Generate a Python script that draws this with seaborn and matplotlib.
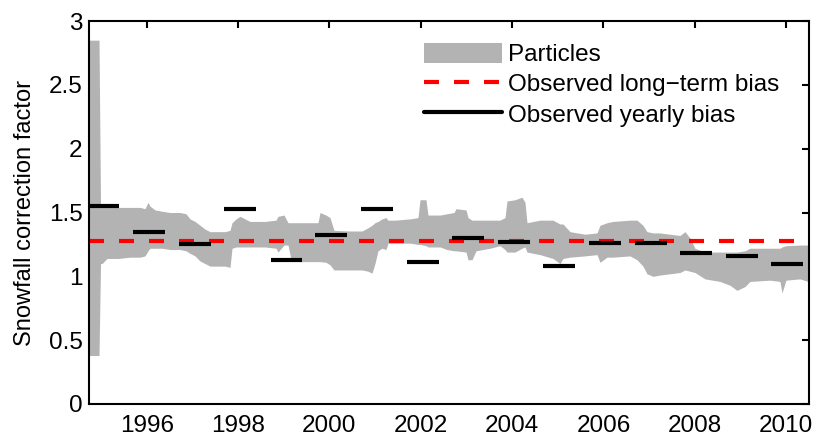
import numpy as np
import pandas as pd
import seaborn as sns
import matplotlib
matplotlib.use("Agg")
import matplotlib.pyplot as plt
from matplotlib.patches import Patch
from matplotlib.lines import Line2D
from matplotlib.ticker import FuncFormatter

# ---- data -----------------------------------------------------------------
band_years = [1994.748, 1994.958, 1994.991, 1995.024, 1995.133, 1995.374, 1995.637,
              1995.856, 1995.965, 1996.031, 1996.074, 1996.184, 1996.337, 1996.512,
              1996.731, 1996.862, 1996.950, 1997.059, 1997.169, 1997.278, 1997.388,
              1997.716, 1997.825, 1997.869, 1997.957, 1998.044, 1998.263, 1998.591,
              1998.832, 1998.876, 1999.007, 1999.095, 1999.160, 1999.357, 1999.751,
              1999.795, 1999.926, 2000.014, 2000.101, 2000.451, 2000.714, 2000.845,
              2000.933, 2000.998, 2001.064, 2001.152, 2001.239, 2001.283, 2001.436,
              2001.765, 2001.940, 2001.984, 2002.115, 2002.159, 2002.421, 2002.575,
              2002.728, 2002.772, 2002.991, 2003.035, 2003.122, 2003.210, 2003.516,
              2003.735, 2003.844, 2003.888, 2004.063, 2004.216, 2004.282, 2004.326,
              2004.610, 2004.895, 2005.048, 2005.114, 2005.267, 2005.595, 2005.858,
              2005.924, 2006.077, 2006.208, 2006.580, 2006.733, 2006.864, 2006.952,
              2007.083, 2007.236, 2007.455, 2007.674, 2007.784, 2007.893, 2008.002,
              2008.221, 2008.550, 2008.769, 2008.922, 2009.097, 2009.206, 2009.644,
              2009.863, 2009.907, 2009.994, 2010.301, 2010.476]
band_upper = [2.85, 2.85, 1.55, 1.55, 1.54, 1.54, 1.54,
              1.54, 1.53, 1.58, 1.55, 1.52, 1.51, 1.50,
              1.50, 1.49, 1.45, 1.43, 1.40, 1.37, 1.35,
              1.35, 1.36, 1.42, 1.45, 1.47, 1.43, 1.43,
              1.44, 1.47, 1.48, 1.42, 1.42, 1.42, 1.42,
              1.50, 1.48, 1.46, 1.36, 1.355, 1.355, 1.38,
              1.40, 1.42, 1.43, 1.45, 1.46, 1.44, 1.44,
              1.45, 1.46, 1.60, 1.60, 1.48, 1.48, 1.49,
              1.50, 1.53, 1.52, 1.46, 1.44, 1.44, 1.44,
              1.44, 1.46, 1.59, 1.60, 1.62, 1.58, 1.42,
              1.44, 1.44, 1.41, 1.41, 1.35, 1.33, 1.34,
              1.40, 1.42, 1.43, 1.44, 1.44, 1.40, 1.35,
              1.34, 1.34, 1.33, 1.32, 1.35, 1.30, 1.22,
              1.19, 1.19, 1.19, 1.19, 1.20, 1.22, 1.22,
              1.22, 1.23, 1.24, 1.245, 1.245]
band_lower = [0.38, 0.38, 1.10, 1.10, 1.14, 1.14, 1.15,
              1.15, 1.16, 1.20, 1.22, 1.22, 1.22, 1.21,
              1.21, 1.20, 1.18, 1.16, 1.12, 1.10, 1.08,
              1.08, 1.07, 1.22, 1.23, 1.23, 1.23, 1.23,
              1.22, 1.19, 1.245, 1.245, 1.13, 1.115, 1.115,
              1.115, 1.11, 1.09, 1.05, 1.05, 1.05, 1.04,
              1.025, 1.10, 1.20, 1.22, 1.21, 1.26, 1.26,
              1.26, 1.25, 1.25, 1.24, 1.23, 1.23, 1.21,
              1.20, 1.20, 1.19, 1.13, 1.13, 1.20, 1.22,
              1.24, 1.21, 1.19, 1.19, 1.22, 1.23, 1.19,
              1.17, 1.14, 1.10, 1.14, 1.15, 1.16, 1.17,
              1.11, 1.15, 1.15, 1.16, 1.13, 1.08, 1.02,
              1.00, 1.01, 1.02, 1.03, 1.05, 1.04, 1.03,
              0.98, 0.96, 0.93, 0.89, 0.92, 0.96, 0.97,
              0.96, 0.87, 0.97, 0.98, 0.96]

long_term_bias = 1.275

season_start = [1994.70, 1995.70, 1996.71, 1997.69, 1998.72, 1999.69, 2000.69, 2001.70,
                2002.68, 2003.69, 2004.68, 2005.69, 2006.70, 2007.68, 2008.69, 2009.67]
season_end = [1995.40, 1996.40, 1997.41, 1998.39, 1999.40, 2000.39, 2001.40, 2002.40,
              2003.38, 2004.39, 2005.38, 2006.39, 2007.40, 2008.38, 2009.39, 2010.37]
yearly_bias = [1.55, 1.35, 1.25, 1.53, 1.13, 1.32, 1.53, 1.11,
               1.30, 1.27, 1.08, 1.26, 1.26, 1.18, 1.16, 1.10]

x_ticks = [1996, 1998, 2000, 2002, 2004, 2006, 2008, 2010]
y_ticks = [0, 0.5, 1, 1.5, 2, 2.5, 3]

# ---- style -------------------------------------------------------------------
sns.set_theme(style="white")
plt.rcParams["font.family"] = ["Liberation Sans", "DejaVu Sans"]
plt.rcParams["axes.unicode_minus"] = True
plt.rcParams["text.color"] = "black"
plt.rcParams["axes.labelcolor"] = "black"
plt.rcParams["xtick.color"] = "black"
plt.rcParams["ytick.color"] = "black"

fig = plt.figure(figsize=(8.13, 4.36), dpi=100)
ax = fig.add_axes([0.1100, 0.0734, 0.8846, 0.8784])

gray = "#b3b3b3"
xlim = (1994.748, 2010.49)

ax.fill_between(band_years, band_lower, band_upper, color=gray, lw=0, zorder=1)

ax.axhline(long_term_bias, color="#ff0000", lw=3, linestyle=(0, (3.6, 3.6)), zorder=2)

seg = pd.DataFrame({
    "season": np.repeat(np.arange(len(yearly_bias)), 2),
    "year": np.ravel(np.column_stack([season_start, season_end])),
    "bias": np.repeat(yearly_bias, 2),
})
sns.lineplot(data=seg, x="year", y="bias", units="season", estimator=None,
             color="black", lw=3, ax=ax, zorder=3, legend=False)
for l in ax.lines:
    l.set_solid_capstyle("butt")

ax.set_xlim(*xlim)
ax.set_ylim(0, 3)
ax.set_xticks(x_ticks)
ax.set_yticks(y_ticks)
ax.yaxis.set_major_formatter(FuncFormatter(lambda v, p: f"{v:g}"))
ax.set_xlabel("")
ax.set_ylabel("Snowfall correction factor", fontsize=17, labelpad=9, color="black")

for s in ax.spines.values():
    s.set_visible(True)
    s.set_color("black")
    s.set_linewidth(1.5)

ax.tick_params(direction="in", length=5, width=1.5, top=True, right=True,
               labelsize=17.5, colors="black", labelcolor="black")
ax.tick_params(axis="x", pad=8)
ax.tick_params(axis="y", pad=5)

handles = [
    Patch(facecolor=gray, edgecolor="none", label="Particles"),
    Line2D([], [], color="#ff0000", lw=3, linestyle=(0, (3.6, 3.6)),
           label="Observed long\u2212term bias"),
    Line2D([], [], color="black", lw=3, label="Observed yearly bias"),
]
ax.legend(handles=handles, loc="upper right", bbox_to_anchor=(0.973, 0.968),
          frameon=False, fontsize=17.5, handlelength=3.2, handleheight=0.88,
          handletextpad=0.25, labelspacing=0.28, borderaxespad=0, borderpad=0.4,
          labelcolor="black")

fig.savefig("out.png", dpi=100)
